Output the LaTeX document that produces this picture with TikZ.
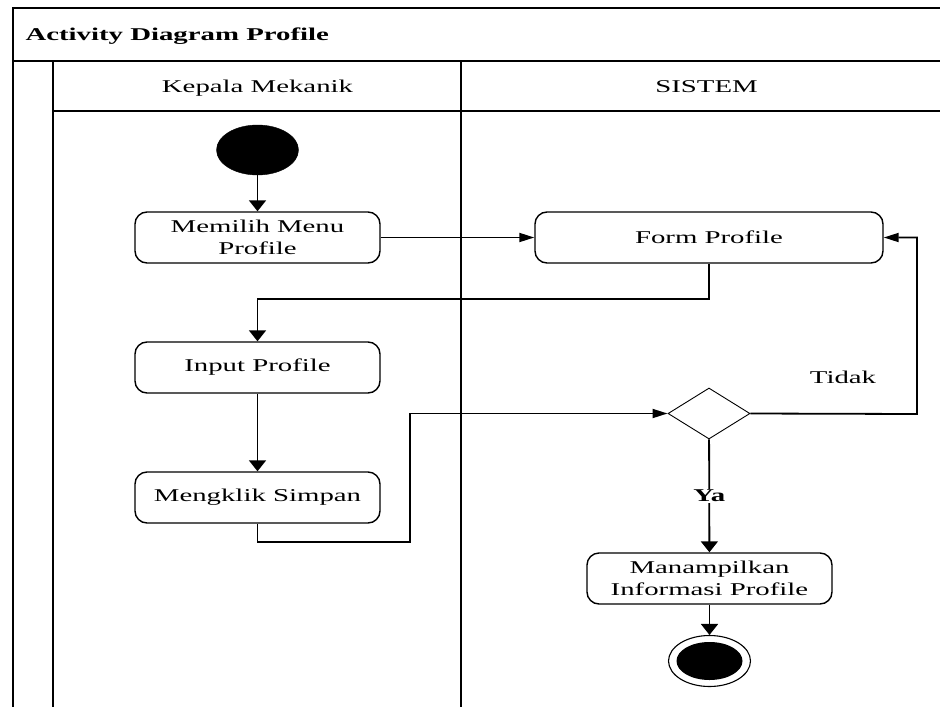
\documentclass[tikz,border=0pt]{standalone}
\usepackage{fontspec}
\setmainfont{Liberation Serif}[FakeStretch=1.6]
\usetikzlibrary{arrows.meta,shapes.geometric}
\begin{document}
\begin{tikzpicture}[x=1pt,y=-1pt,
  lane/.style={line width=1.9pt},
  txt/.style={font=\fontsize{18}{21.5}\selectfont},
  act/.style={draw,line width=1.4pt,rounded corners=12pt,minimum width=245pt,minimum height=51pt,align=center,txt,inner sep=0pt},
  flow/.style={line width=1.8pt},
  va/.style={-{Triangle[length=11pt,width=17pt]}},
  ha/.style={-{Triangle[length=15pt,width=9pt]}},
]
\useasboundingbox (0,0) rectangle (940,707);
% frame and swimlanes
\draw[lane] (13,707) -- (13,8) -- (940,8);
\draw[lane] (13,61) -- (940,61);
\draw[lane] (53,111) -- (940,111);
\draw[lane] (53,61) -- (53,707);
\draw[lane] (461,61) -- (461,707);
\node[anchor=base west,txt,font=\fontsize{18}{21.5}\selectfont\bfseries] (title) at (22,40) {Activity Diagram Profile};
\node[anchor=base,txt] (laneA) at (257.5,92) {Kepala Mekanik};
\node[anchor=base,txt] (laneB) at (706.5,92) {SISTEM};
% nodes
\node[fill=black,draw,ellipse,minimum width=82pt,minimum height=50pt,inner sep=0pt] (start) at (257.5,150) {};
\node[act] (memilih) at (257.5,237.5) {Memilih Menu\\Profile};
\node[act,minimum width=348pt] (form) at (709,237.5) {Form Profile};
\node[act] (input) at (257.5,367.5) {Input Profile};
\node[act] (klik) at (257.5,497.5) {Mengklik Simpan};
\node[draw,diamond,line width=0.9pt,minimum width=82pt,minimum height=51pt,inner sep=0pt] (dec) at (709,413.5) {};
\node[act] (info) at (709.5,578.5) {Manampilkan\\Informasi Profile};
\node[draw,ellipse,line width=1.1pt,minimum width=82pt,minimum height=51pt,inner sep=0pt] (end) at (709.5,661) {};
\node[fill=black,ellipse,minimum width=66pt,minimum height=38pt,inner sep=0pt] (endin) at (709.5,661) {};
\node[anchor=base,txt] (tidak) at (843,383) {Tidak};
\coordinate (k1) at (410,542);
\coordinate (t1) at (917,414);
% connectors
\draw[flow,va] (start) -- (memilih);
\draw[flow,ha] (memilih) -- (form);
\draw[flow,va] (form.south) -- ++(0,35) -| (input.north);
\draw[flow,va] (input) -- (klik);
\draw[flow,ha] (klik.south) |- (k1) |- (dec.west);
\draw[flow,ha] (dec.east) -- (t1) |- (form.east);
\draw[flow,va] (dec) -- node[fill=white,txt,font=\fontsize{18}{21.5}\selectfont\bfseries,inner sep=1pt] (ya) {Ya} (info);
\draw[flow,va] (info) -- (end);
\end{tikzpicture}
\end{document}
